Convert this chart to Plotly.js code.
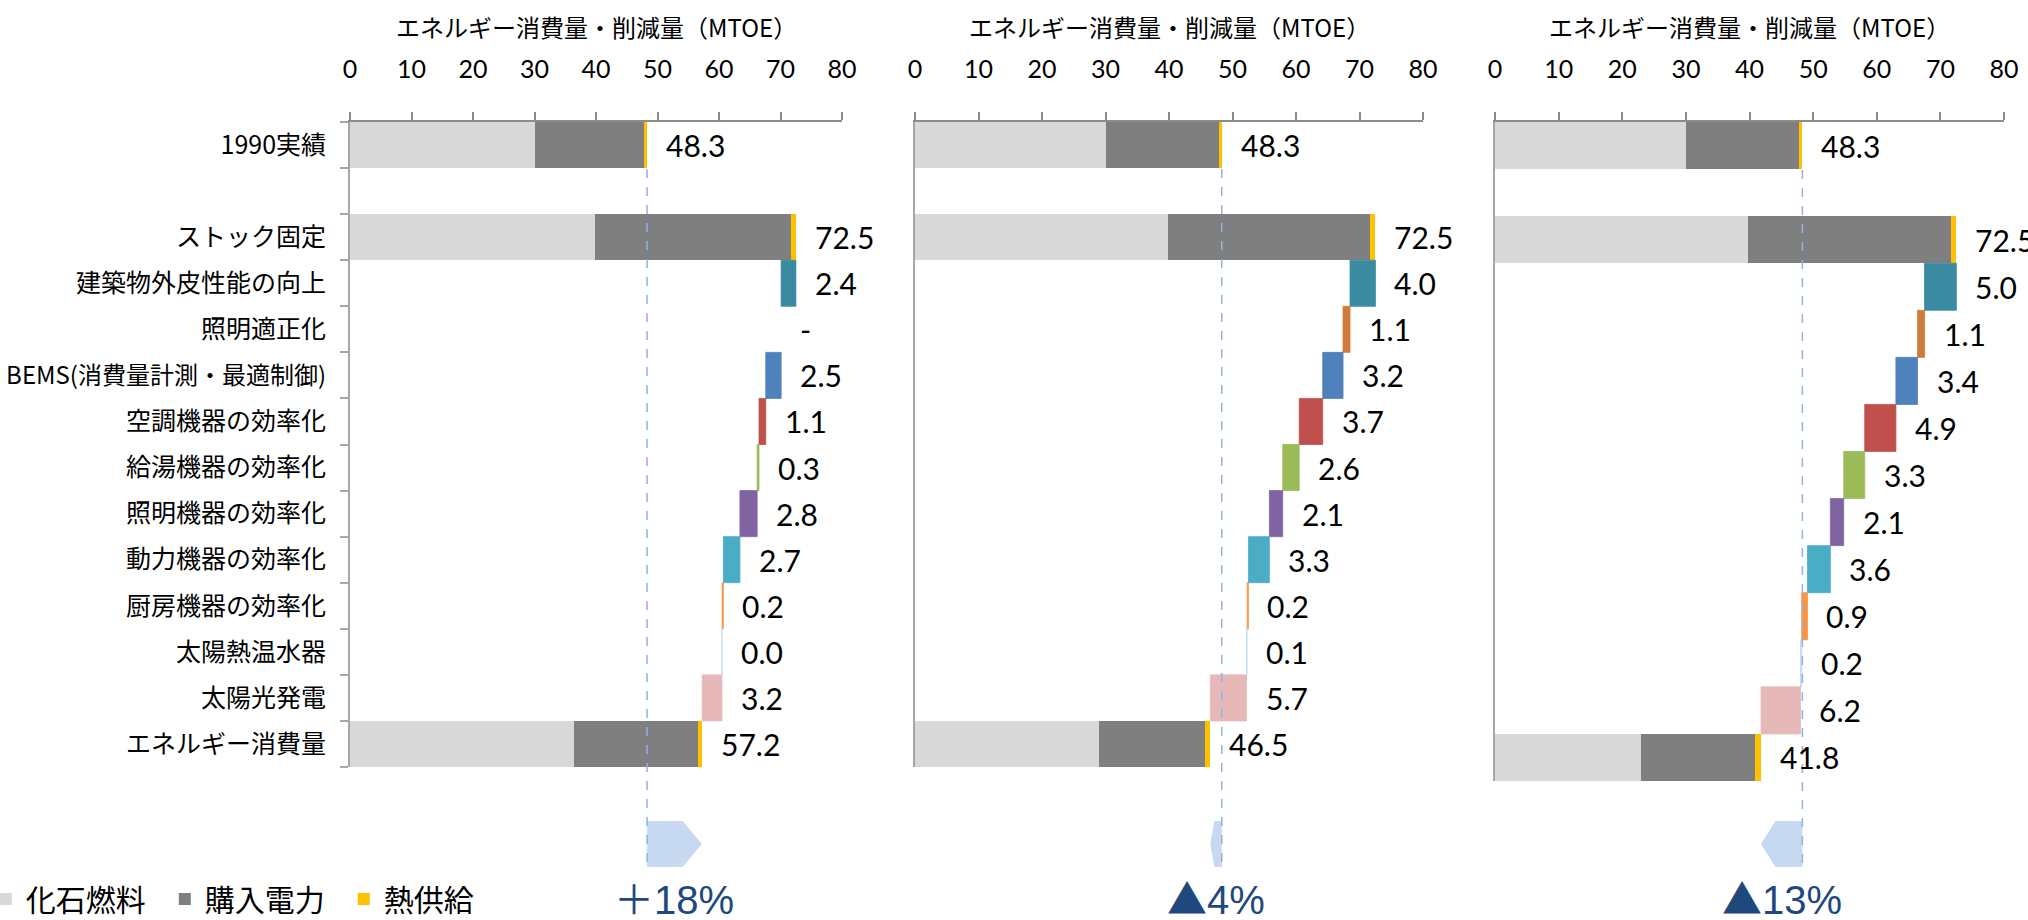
<!DOCTYPE html>
<html><head><meta charset="utf-8">
<script src="https://cdn.plot.ly/plotly-3.0.1.min.js"></script>
<style>html,body{margin:0;padding:0;background:#fff;} #chart{width:2028px;height:920px;}</style>
</head><body><div id="chart"></div>
<script>
// ---- data ----
const measures = ['建築物外皮性能の向上','照明適正化','BEMS(消費量計測・最適制御)','空調機器の効率化','給湯機器の効率化','照明機器の効率化','動力機器の効率化','厨房機器の効率化','太陽熱温水器','太陽光発電'];
const gapRow = '\u3000';
const totalRows = ['1990実績','ストック固定','エネルギー消費量'];
const categories = [totalRows[0], gapRow, totalRows[1]].concat(measures, [totalRows[2]]);

const seriesNames = ['化石燃料','購入電力','熱供給'];
const seriesColors = ['#D9D9D9','#7F7F7F','#FFC000'];

// components of 1990 / stock / final bars, per scenario
const fossilA = [30.0, 39.8, 36.4];
const elecA   = [17.8, 31.9, 20.1];
const heatA   = [0.5, 0.8, 0.7];
const fossilB = [30.0, 39.8, 28.9];
const elecB   = [17.8, 31.9, 16.7];
const heatB   = [0.5, 0.8, 0.9];
const fossilC = [30.0, 39.8, 22.9];
const elecC   = [17.8, 31.9, 17.9];
const heatC   = [0.5, 0.8, 1.0];

// reductions by measure (null = "-")
const stepsA = [2.4, null, 2.5, 1.1, 0.3, 2.8, 2.7, 0.2, 0.04, 3.2];
const stepsB = [4.0, 1.1, 3.2, 3.7, 2.6, 2.1, 3.3, 0.2, 0.1, 5.7];
const stepsC = [5.0, 1.1, 3.4, 4.9, 3.3, 2.1, 3.6, 0.9, 0.2, 6.2];
const stepColors = ['#3A8BA2','#D07B39','#4F81BD','#C0504D','#9BBB59','#8064A2','#4BACC6','#F79646','#C5D9F1','#E6B9B8'];

const pctLabels = ['＋18%','▲4%','▲13%'];

const axisTitle = 'エネルギー消費量・削減量（MTOE）';

// ---- build ----
const panels = [
  {fossil: fossilA, elec: elecA, heat: heatA, steps: stepsA, xd: [0.1726, 0.4152], yd: [0.1663, 0.8674]},
  {fossil: fossilB, elec: elecB, heat: heatB, steps: stepsB, xd: [0.4512, 0.7017], yd: [0.1663, 0.8674]},
  {fossil: fossilC, elec: elecC, heat: heatC, steps: stepsC, xd: [0.7372, 0.9882], yd: [0.1511, 0.8674]}
];

const NUMFONT = 'Lato, "Open Sans", sans-serif';
const JPFONT = '"Noto Sans CJK JP", sans-serif';
const traces = [];
const annotations = [];
const shapes = [];
const layout = {
  width: 2028, height: 920,
  margin: {l: 0, r: 0, t: 0, b: 0, pad: 0, autoexpand: false},
  paper_bgcolor: '#fff', plot_bgcolor: 'rgba(0,0,0,0)',
  barmode: 'overlay', bargap: 0,
  showlegend: true,
  legend: {orientation: 'h', x: -0.007, xanchor: 'left', y: 0.0228, yanchor: 'middle',
           font: {family: JPFONT, size: 30, color: '#000'}, bgcolor: 'rgba(0,0,0,0)',
           entrywidthmode: 'pixels', entrywidth: 134, itemclick: false, itemdoubleclick: false},
  annotations: annotations, shapes: shapes
};

// tick text: long label drawn slightly smaller so it fits the left edge
const tickText = categories.map(c => c.length > 12 ? '<span style="font-size:24px">' + c + '</span>' : c);

panels.forEach((p, i) => {
  const xa = 'x' + (i ? i + 1 : '');
  const ya = 'y' + (i ? i + 1 : '');
  const comps = [p.fossil, p.elec, p.heat];
  const totals = p.fossil.map((v, k) => v + p.elec[k] + p.heat[k]);
  comps.forEach((arr, s) => {
    const base = arr.map((v, k) => comps.slice(0, s).reduce((a, c) => a + c[k], 0));
    traces.push({
      type: 'bar', orientation: 'h', y: totalRows, x: arr, base: base, width: 1,
      xaxis: xa, yaxis: ya, name: seriesNames[s], legendgroup: seriesNames[s],
      showlegend: i === 0, marker: {color: seriesColors[s], line: {width: 0}},
      hoverinfo: 'skip'
    });
  });
  // waterfall steps
  let run = totals[1];
  const sx = [], sb = [], ends = [];
  p.steps.forEach(v => {
    ends.push(run);
    if (v === null) { sx.push(null); sb.push(null); }
    else { sx.push(v); sb.push(run - v); run = run - v; }
  });
  traces.push({
    type: 'bar', orientation: 'h', y: measures, x: sx, base: sb, width: 1,
    xaxis: xa, yaxis: ya, showlegend: false, name: 'steps',
    marker: {color: stepColors, line: {width: 0.8, color: stepColors}}, hoverinfo: 'skip'
  });
  // value labels
  totals.forEach((t, k) => annotations.push({
    xref: xa, yref: ya, x: t, y: totalRows[k], text: t.toFixed(1), showarrow: false,
    xanchor: 'left', yanchor: 'middle', xshift: 17, font: {family: NUMFONT, size: 30, color: '#000'}
  }));
  p.steps.forEach((v, k) => annotations.push({
    xref: xa, yref: ya, x: ends[k], y: measures[k], text: v === null ? '-' : v.toFixed(1), showarrow: false,
    xanchor: 'left', yanchor: 'middle', xshift: 17, font: {family: NUMFONT, size: 30, color: '#000'}
  }));
  // axis title
  annotations.push({xref: xa + ' domain', yref: 'paper', x: 0.5, y: 0.9717, text: axisTitle, showarrow: false,
    xanchor: 'center', yanchor: 'middle', font: {family: JPFONT, size: 24, color: '#000'}});
  // comparison arrow & dashed reference line
  const start = totals[0], end = totals[2];
  const head = (end - start) * 0.35;
  const yT = 0.1076, yB = 0.0576, yM = (yT + yB) / 2;
  shapes.push({type: 'path', xref: xa, yref: 'paper', layer: 'below',
    path: `M${start},${yT} L${end - head},${yT} L${end},${yM} L${end - head},${yB} L${start},${yB} Z`,
    fillcolor: '#C6D9F1', line: {width: 0}});
  shapes.push({type: 'line', xref: xa, yref: 'paper', layer: 'above', x0: start, x1: start,
    y0: i === 2 ? 0.8152 : 0.8163, y1: yB, line: {color: '#8DB4E2', width: 1.5, dash: 'dash'}});
  const lbl = pctLabels[i];
  annotations.push({xref: xa, yref: 'paper', x: (start + end) / 2, y: 0.0255,
    text: '<span style="font-family:\'Noto Sans CJK JP\'">' + lbl.charAt(0) + '</span>' + lbl.slice(1), showarrow: false,
    xanchor: 'center', yanchor: 'middle', font: {family: '"Liberation Sans", Arial, sans-serif', size: 40, color: '#1F497D'}});

  layout['xaxis' + (i ? i + 1 : '')] = {
    domain: p.xd, anchor: ya, side: 'top', range: [0, 80], tick0: 0, dtick: 10,
    ticks: 'outside', ticklen: 8, tickwidth: 2, tickcolor: '#8C8C8C',
    showline: true, linecolor: '#8C8C8C', linewidth: 2, showgrid: false, zeroline: false,
    tickfont: {family: NUMFONT, size: 25, color: '#000'}, ticklabelstandoff: 24, fixedrange: true
  };
  layout['yaxis' + (i ? i + 1 : '')] = {
    domain: p.yd, anchor: xa, type: 'category', categoryorder: 'array', categoryarray: categories,
    tickmode: 'array', tickvals: categories, ticktext: tickText,
    range: [categories.length - 0.5, -0.5], showline: true, linecolor: '#A6A6A6', linewidth: 2,
    showgrid: false, zeroline: false, fixedrange: true,
    ticks: i === 0 ? 'outside' : '', tickson: 'boundaries', ticklen: 8, tickwidth: 2, tickcolor: '#A6A6A6',
    showticklabels: i === 0, tickfont: {family: JPFONT, size: 25, color: '#000'}, ticklabelstandoff: 17
  };
});

Plotly.newPlot('chart', traces, layout, {staticPlot: true, displayModeBar: false});
</script></body></html>
